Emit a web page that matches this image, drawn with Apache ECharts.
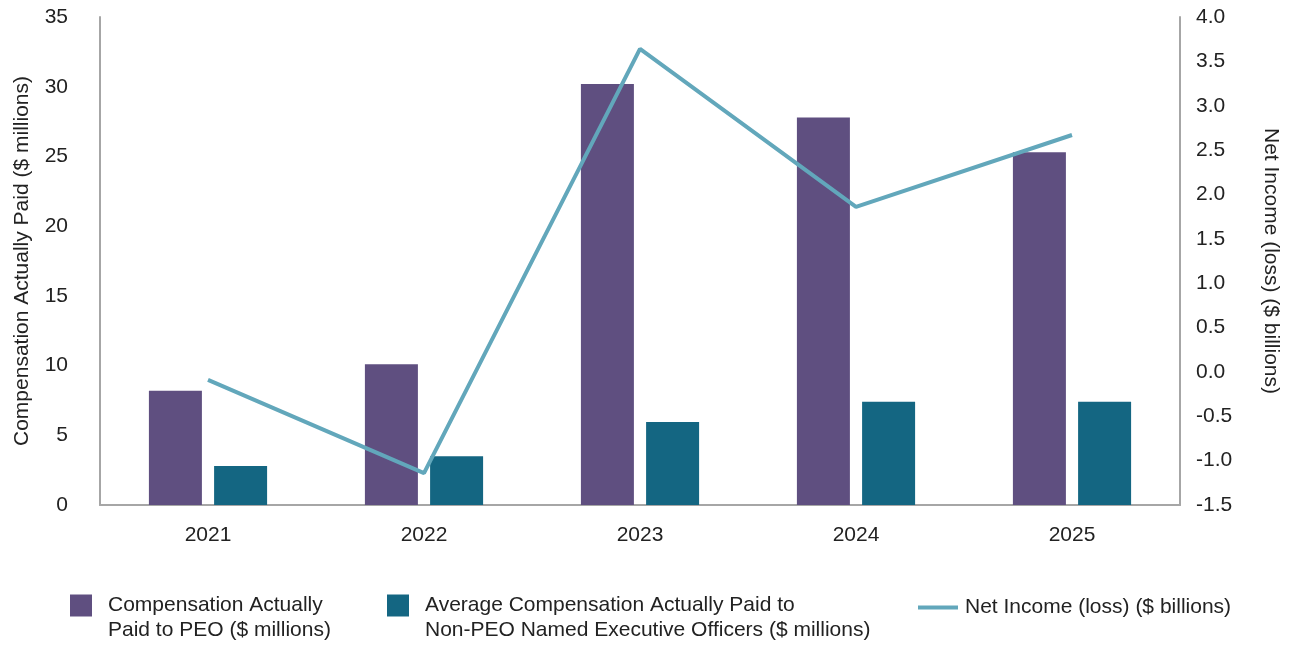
<!DOCTYPE html>
<html>
<head>
<meta charset="utf-8">
<script src="https://cdn.jsdelivr.net/npm/echarts@6/dist/echarts.min.js"></script>
<style>
html,body{margin:0;padding:0;background:#fff;}
#c{width:1294px;height:646px;}
</style>
</head>
<body>
<div id="c"></div>
<script>
const years = ['2021','2022','2023','2024','2025'];
const peoComp = [8.2, 10.1, 30.2, 27.8, 25.3];
const neoComp = [2.8, 3.5, 5.95, 7.4, 7.4];
const netIncome = [-0.09, -1.14, 3.64, 1.86, 2.67];
const leftTicks = [0, 35, 5];
const rightTicks = [-1.5, 4.0, 0.5];

const names = [
  'Compensation Actually\nPaid to PEO ($ millions)',
  'Average Compensation Actually Paid to\nNon-PEO Named Executive Officers ($ millions)',
  'Net Income (loss) ($ billions)'
];
const txt = '#222222';
const axisCol = '#a6a6a6';
const font = 'Liberation Sans, Arial, sans-serif';
const fs = 21;

const chart = echarts.init(document.getElementById('c'));
const richText = {
  a: {fontFamily: font, fontSize: fs, color: txt, lineHeight: 25, padding: [0, 0, 0, 11]}
};
const twoLine = name => '{a| }\n' + name.split('\n').map(s => '{a|' + s + '}').join('\n');
const legBase = {
  orient: 'horizontal',
  itemGap: 0,
  selectedMode: false,
  textStyle: {fontFamily: font, fontSize: fs, color: txt, lineHeight: 25, rich: richText}
};
chart.setOption({
  animation: false,
  textStyle: {fontFamily: font},
  grid: {left: 100, right: 114, top: 17, bottom: 141},
  legend: [
    Object.assign({}, legBase, {data: [names[0]], left: 65, top: 563, icon: 'rect', itemWidth: 22, itemHeight: 22,
      formatter: twoLine}),
    Object.assign({}, legBase, {data: [names[1]], left: 382, top: 563, icon: 'rect', itemWidth: 22, itemHeight: 22,
      formatter: twoLine}),
    Object.assign({}, legBase, {data: [names[2]], left: 913, top: 590, icon: 'rect', itemWidth: 40, itemHeight: 4,
      textStyle: {fontFamily: font, fontSize: fs, color: txt, lineHeight: 25, padding: [0, 0, 0, 2]}})
  ],
  xAxis: {
    type: 'category',
    data: years,
    boundaryGap: true,
    axisLine: {lineStyle: {color: axisCol, width: 2}},
    axisTick: {show: false},
    axisLabel: {color: txt, fontSize: fs, margin: 20, fontFamily: font}
  },
  yAxis: [
    {
      type: 'value', min: leftTicks[0], max: leftTicks[1], interval: leftTicks[2],
      name: 'Compensation Actually Paid ($ millions)', nameLocation: 'middle', nameGap: 67,
      nameTextStyle: {color: txt, fontSize: fs, fontFamily: font},
      axisLine: {show: true, lineStyle: {color: axisCol, width: 2}},
      axisTick: {show: false},
      splitLine: {show: false},
      axisLabel: {color: txt, fontSize: fs, margin: 32, fontFamily: font}
    },
    {
      type: 'value', min: rightTicks[0], max: rightTicks[1], interval: rightTicks[2],
      name: 'Net Income (loss) ($ billions)', nameLocation: 'middle', nameGap: 80, nameRotate: -90,
      nameTextStyle: {color: txt, fontSize: fs, fontFamily: font},
      position: 'right',
      axisLine: {show: true, lineStyle: {color: axisCol, width: 2}},
      axisTick: {show: false},
      splitLine: {show: false},
      axisLabel: {color: txt, fontSize: fs, margin: 16, fontFamily: font,
        formatter: v => v.toFixed(1)}
    }
  ],
  series: [
    {name: names[0], type: 'bar', data: peoComp, barWidth: 53, barGap: '23%',
      itemStyle: {color: '#5f4f80'}},
    {name: names[1], type: 'bar', data: neoComp, barWidth: 53, barGap: '23%',
      itemStyle: {color: '#146682'}},
    {name: names[2], type: 'line', yAxisIndex: 1, data: netIncome, symbol: 'none',
      lineStyle: {color: '#62a7bb', width: 4}, itemStyle: {color: '#62a7bb'}, z: 5}
  ]
});
</script>
</body>
</html>
